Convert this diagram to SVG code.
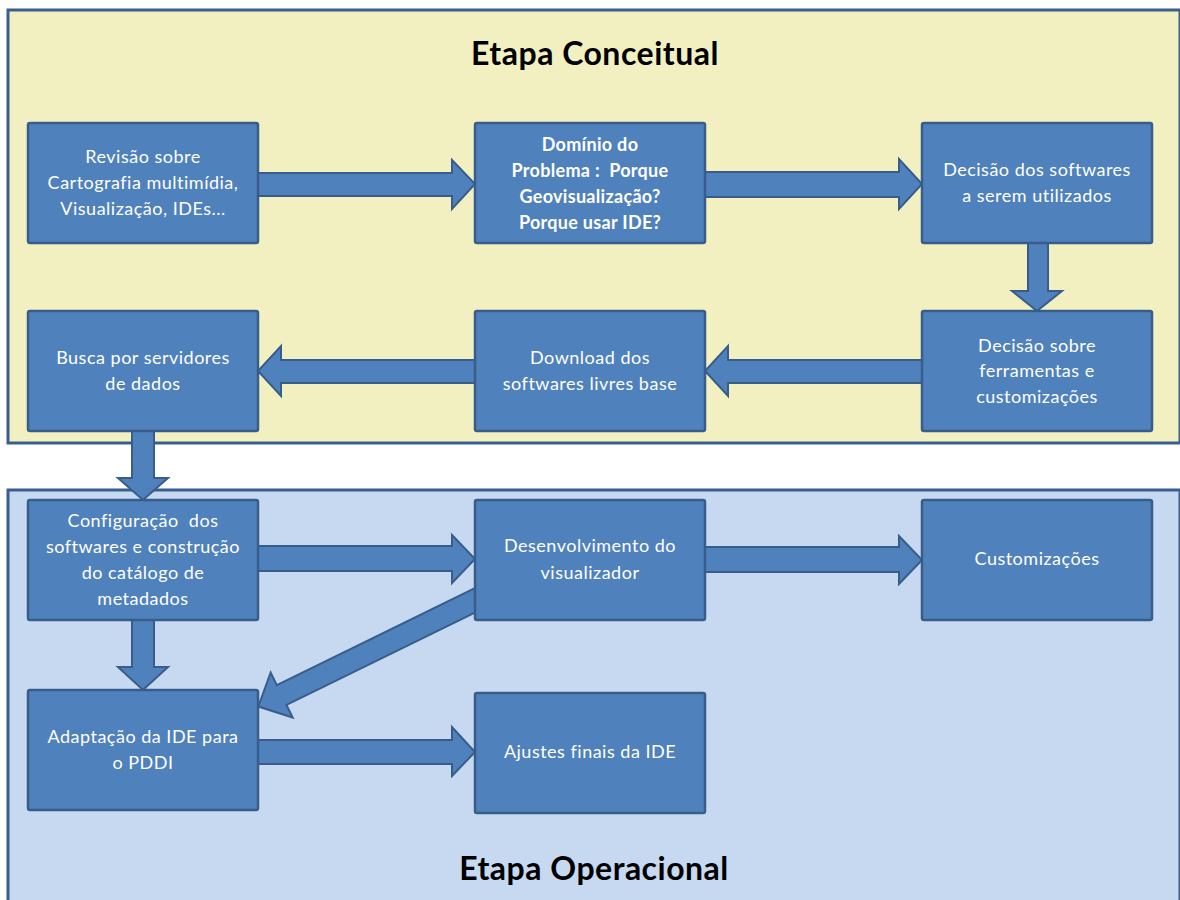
<svg xmlns="http://www.w3.org/2000/svg" width="1180" height="900" viewBox="0 0 1180 900">
<style>
.stage{stroke:#3a5f8e;stroke-width:3}
.node{fill:#4f81bd;stroke:#385d8a;stroke-width:2.5}
.arr{fill:#4f81bd;stroke:#385d8a;stroke-width:2;stroke-linejoin:miter}
.t{font-family:Lato,"Open Sans","Liberation Sans",sans-serif;font-size:18px;fill:#ffffff;text-anchor:middle;letter-spacing:0.5px}
.b{font-weight:bold;letter-spacing:0.3px}
.title{font-family:Lato,"Open Sans","Liberation Sans",sans-serif;font-size:32px;fill:#000;text-anchor:middle;font-weight:bold;letter-spacing:0.5px}
</style>
<rect width="1180" height="900" fill="#ffffff"/>
<g id="stage-conceitual">
<rect class="stage" x="8" y="10" width="1172" height="433" fill="#f2f0c0"/>
<text class="title" x="595" y="65">Etapa Conceitual</text>
</g>
<g id="stage-operacional">
<rect class="stage" x="8" y="490" width="1172" height="420" fill="#c6d9f0"/>
<text class="title" x="594" y="880">Etapa Operacional</text>
</g>
<g id="connectors">
<path class="arr" d="M250,173 H452 V160 L475,184 L452,209 V196 H250 Z"/>
<path class="arr" d="M697,172 H899 V159 L922,184 L899,209 V197 H697 Z"/>
<path class="arr" d="M1028,235 V291 H1012 L1037,311 L1062,291 H1048 V235 Z"/>
<path class="arr" d="M930,360 H728 V346 L705,371 L728,396 V383 H930 Z"/>
<path class="arr" d="M483,360 H281 V346 L258,371 L281,396 V383 H483 Z"/>
<path class="arr" d="M132,423 V478 H118 L143,500 L168,478 H154 V423 Z"/>
<path class="arr" d="M250,546 H452 V535 L475,559 L452,583 V571 H250 Z"/>
<path class="arr" d="M697,547 H899 V536 L922,560 L899,584 V572 H697 Z"/>
<path class="arr" d="M132,612 V667 H118 L143,690 L168,667 H154 V612 Z"/>
<path class="arr" transform="translate(490,593) rotate(153.9)" d="M0,-11 H232 V-25 L258,0 L232,25 V11 H0 Z"/>
<path class="arr" d="M250,740 H452 V727 L475,752 L452,776 V764 H250 Z"/>
</g>
<g id="n1"><rect class="node" x="28" y="123" width="230" height="120" rx="2"/>
<text class="t" x="143" y="163">Revisão sobre</text><text class="t" x="143" y="189">Cartografia multimídia,</text><text class="t" x="143" y="215">Visualização, IDEs...</text></g>
<g id="n2"><rect class="node" x="475" y="123" width="230" height="120" rx="2"/>
<text class="t b" x="590" y="151">Domínio do</text><text class="t b" x="590" y="177" xml:space="preserve">Problema :  Porque</text><text class="t b" x="590" y="203">Geovisualização?</text><text class="t b" x="590" y="229">Porque usar IDE?</text></g>
<g id="n3"><rect class="node" x="922" y="123" width="230" height="120" rx="2"/>
<text class="t" x="1037" y="176">Decisão dos softwares</text><text class="t" x="1037" y="202">a serem utilizados</text></g>
<g id="n4"><rect class="node" x="922" y="311" width="230" height="120" rx="2"/>
<text class="t" x="1037" y="352">Decisão sobre</text><text class="t" x="1037" y="377">ferramentas e</text><text class="t" x="1037" y="403">customizações</text></g>
<g id="n5"><rect class="node" x="475" y="311" width="230" height="120" rx="2"/>
<text class="t" x="590" y="364">Download dos</text><text class="t" x="590" y="390">softwares livres base</text></g>
<g id="n6"><rect class="node" x="28" y="311" width="230" height="120" rx="2"/>
<text class="t" x="143" y="364">Busca por servidores</text><text class="t" x="143" y="390">de dados</text></g>
<g id="n7"><rect class="node" x="28" y="500" width="230" height="120" rx="2"/>
<text class="t" x="143" y="527" xml:space="preserve">Configuração  dos</text><text class="t" x="143" y="553">softwares e construção</text><text class="t" x="143" y="579">do catálogo de</text><text class="t" x="143" y="605">metadados</text></g>
<g id="n8"><rect class="node" x="475" y="500" width="230" height="120" rx="2"/>
<text class="t" x="590" y="552">Desenvolvimento do</text><text class="t" x="590" y="579">visualizador</text></g>
<g id="n9"><rect class="node" x="922" y="500" width="230" height="120" rx="2"/>
<text class="t" x="1037" y="565">Customizações</text></g>
<g id="n10"><rect class="node" x="28" y="690" width="230" height="120" rx="2"/>
<text class="t" x="143" y="743">Adaptação da IDE para</text><text class="t" x="143" y="769">o PDDI</text></g>
<g id="n11"><rect class="node" x="475" y="693" width="230" height="120" rx="2"/>
<text class="t" x="590" y="758">Ajustes finais da IDE</text></g>
</svg>
